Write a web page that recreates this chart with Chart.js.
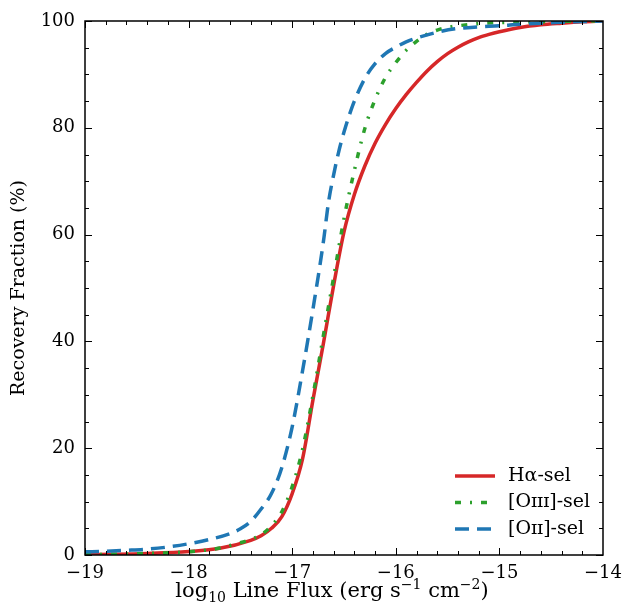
<!DOCTYPE html>
<html>
<head>
<meta charset="utf-8">
<script src="https://cdn.jsdelivr.net/npm/chart.js@4"></script>
<style>
  body { margin: 0; background: #fff; }
  #wrap { width: 625px; height: 615px; }
</style>
</head>
<body>
<div id="wrap"><canvas id="myChart"></canvas></div>
<script>
const ctx = document.getElementById('myChart');

// log10 line flux sampled where the curves were read
const haFlux = [-19, -18.7, -18.4, -18, -17.7, -17.4, -17.3, -17.2, -17.1, -17, -16.9, -16.8, -16.7, -16.6, -16.5, -16.4, -16.3, -16.2, -16.1, -16, -15.9, -15.8, -15.7, -15.6, -15.5, -15.4, -15.3, -15.2, -15.1, -15, -14.8, -14.6, -14.4, -14.2, -14];
const haFrac = [0.05, 0.13, 0.28, 0.65, 1.25, 2.75, 3.6, 5.0, 7.2, 11.5, 18, 29, 39.5, 50.5, 60.5, 67.5, 72.8, 77.1, 80.6, 83.6, 86.2, 88.5, 90.6, 92.4, 93.9, 95.1, 96.1, 96.9, 97.5, 98, 98.8, 99.3, 99.6, 99.85, 100];

const o3Flux = [-19, -18.7, -18.4, -18, -17.7, -17.5, -17.4, -17.3, -17.2, -17.1, -17, -16.9, -16.8, -16.7, -16.6, -16.5, -16.4, -16.3, -16.2, -16.1, -16, -15.9, -15.8, -15.7, -15.6, -15.5, -15.4, -15.2, -15, -14.5, -14];
const o3Frac = [0.05, 0.15, 0.3, 0.6, 1.3, 2.3, 2.9, 3.8, 5.5, 8.1, 12.8, 19.8, 29.8, 41, 52, 63, 72, 79.8, 85.3, 89.4, 92.2, 94.5, 96.2, 97.5, 98.3, 98.8, 99.1, 99.5, 99.7, 99.9, 100];

const o2Flux = [-19, -18.8, -18.6, -18.4, -18.2, -18, -17.8, -17.6, -17.5, -17.4, -17.3, -17.2, -17.1, -17, -16.9, -16.8, -16.7, -16.65, -16.6, -16.55, -16.5, -16.45, -16.4, -16.3, -16.2, -16.1, -16, -15.9, -15.8, -15.6, -15.4, -15.2, -15, -14.8, -14.6, -14.4, -14.2, -14];
const o2Frac = [0.6, 0.7, 0.88, 1.1, 1.5, 2.1, 2.9, 4.0, 4.9, 6.3, 8.6, 11.5, 16.4, 24, 34.5, 46, 58.5, 66, 71.2, 75.6, 79.2, 82.3, 85, 89.2, 92, 93.9, 95.1, 96.1, 96.8, 97.9, 98.6, 98.9, 99.1, 99.4, 99.6, 99.75, 99.9, 100];

const seriesNames = ['H\u03b1-sel', '[O\u026a\u026a\u026a]-sel', '[O\u026a\u026a]-sel'];

const xTicks = [-19, -18, -17, -16, -15, -14];
const yTicks = [0, 20, 40, 60, 80, 100];

const FONT = '"DejaVu Serif", serif';

function pts(xs, ys) {
  return xs.map((x, i) => ({ x: x, y: ys[i] }));
}

// frame + inward ticks on all four sides (matplotlib style)
const framePlugin = {
  id: 'frame',
  afterDatasetsDraw(chart) {
    const a = chart.chartArea;
    const xs = chart.scales.x, ys = chart.scales.y;
    const c = chart.ctx;
    c.save();
    c.strokeStyle = '#000';
    c.lineWidth = 1;
    c.beginPath();
    for (let v = -19; v <= -14.001; v += 0.2) {
      const major = Math.abs(v - Math.round(v)) < 1e-6;
      const len = major ? 7 : 4;
      const px = Math.round(xs.getPixelForValue(v)) + 0.5;
      c.moveTo(px, a.bottom); c.lineTo(px, a.bottom - len);
      c.moveTo(px, a.top); c.lineTo(px, a.top + len);
    }
    for (let v = 0; v <= 100; v += 5) {
      const len = v % 20 === 0 ? 7 : 4;
      const py = Math.round(ys.getPixelForValue(v)) + 0.5;
      c.moveTo(a.left, py); c.lineTo(a.left + len, py);
      c.moveTo(a.right, py); c.lineTo(a.right - len, py);
    }
    c.stroke();
    c.lineWidth = 1.5;
    c.strokeRect(a.left, a.top, a.right - a.left, a.bottom - a.top);
    c.restore();
  }
};

// legend inside lower right, no frame; x-axis title with real sub/superscripts
const textPlugin = {
  id: 'texts',
  afterDraw(chart) {
    const c = chart.ctx;
    const a = chart.chartArea;
    c.save();
    c.font = '19px ' + FONT;
    c.fillStyle = '#000';
    c.textBaseline = 'middle';
    chart.data.datasets.forEach((ds, i) => {
      const y = a.bottom - 79 + i * 26.5;
      const x0 = a.right - 148;
      c.strokeStyle = ds.borderColor;
      c.lineWidth = ds.borderWidth;
      c.setLineDash(ds.borderDash || []);
      c.beginPath();
      c.moveTo(x0, y);
      c.lineTo(x0 + 40, y);
      c.stroke();
      c.setLineDash([]);
      c.fillText(seriesNames[i], x0 + 53, y);
    });

    // x title pieces: [text, size, baseline shift]
    const parts = [
      ['log', 21, 0], ['10', 14, 5], [' Line Flux (erg s', 21, 0], ['\u22121', 14, -8],
      [' cm', 21, 0], ['\u22122', 14, -8], [')', 21, 0]
    ];
    c.textBaseline = 'alphabetic';
    let total = 0;
    parts.forEach(p => { c.font = p[1] + 'px ' + FONT; total += c.measureText(p[0]).width; });
    let x = (a.left + a.right) / 2 - 12 - total / 2;
    const base = 597;
    parts.forEach(p => {
      c.font = p[1] + 'px ' + FONT;
      c.fillText(p[0], x, base + p[2]);
      x += c.measureText(p[0]).width;
    });
    c.restore();
  }
};

function minus(v) {
  return v < 0 ? '\u2212' + Math.abs(v) : String(v);
}

let myChart = new Chart(ctx, {
  type: 'line',
  data: {
    datasets: [
      {
        label: seriesNames[0],
        data: pts(haFlux, haFrac),
        borderColor: '#d62728',
        borderWidth: 3.5,
        order: 3
      },
      {
        label: seriesNames[1],
        data: pts(o3Flux, o3Frac),
        borderColor: '#2ca02c',
        borderWidth: 3.5,
        borderDash: [6, 9, 2, 9],
        order: 2
      },
      {
        label: seriesNames[2],
        data: pts(o2Flux, o2Frac),
        borderColor: '#1f77b4',
        borderWidth: 3.5,
        borderDash: [14, 8],
        order: 1
      }
    ]
  },
  options: {
    animation: false,
    responsive: true,
    maintainAspectRatio: false,
    devicePixelRatio: 1,
    layout: { padding: { left: 0, right: 22, top: 21, bottom: 0 } },
    elements: {
      point: { radius: 0 },
      line: { fill: false, cubicInterpolationMode: 'monotone', borderCapStyle: 'butt' }
    },
    plugins: {
      legend: { display: false },
      tooltip: { enabled: false }
    },
    scales: {
      x: {
        type: 'linear',
        min: -19,
        max: -14,
        afterFit(scale) { scale.height = 60; scale.paddingLeft = 0; scale.paddingRight = 0; },
        afterBuildTicks(scale) { scale.ticks = xTicks.map(v => ({ value: v })); },
        grid: { display: false, drawTicks: false },
        border: { display: false },
        ticks: {
          color: '#000',
          padding: 8,
          font: { family: FONT, size: 18 },
          maxRotation: 0,
          callback: minus
        },
        title: { display: false }
      },
      y: {
        min: 0,
        max: 100,
        afterFit(scale) { scale.width = 85; scale.paddingTop = 0; scale.paddingBottom = 0; },
        afterBuildTicks(scale) { scale.ticks = yTicks.map(v => ({ value: v })); },
        grid: { display: false, drawTicks: false },
        border: { display: false },
        ticks: {
          color: '#000',
          padding: 10,
          font: { family: FONT, size: 18 },
          callback: minus
        },
        title: {
          display: true,
          text: 'Recovery Fraction (%)',
          color: '#000',
          font: { family: FONT, size: 19 },
          padding: { top: 8, bottom: 0 }
        }
      }
    }
  },
  plugins: [framePlugin, textPlugin]
});
</script>
</body>
</html>
